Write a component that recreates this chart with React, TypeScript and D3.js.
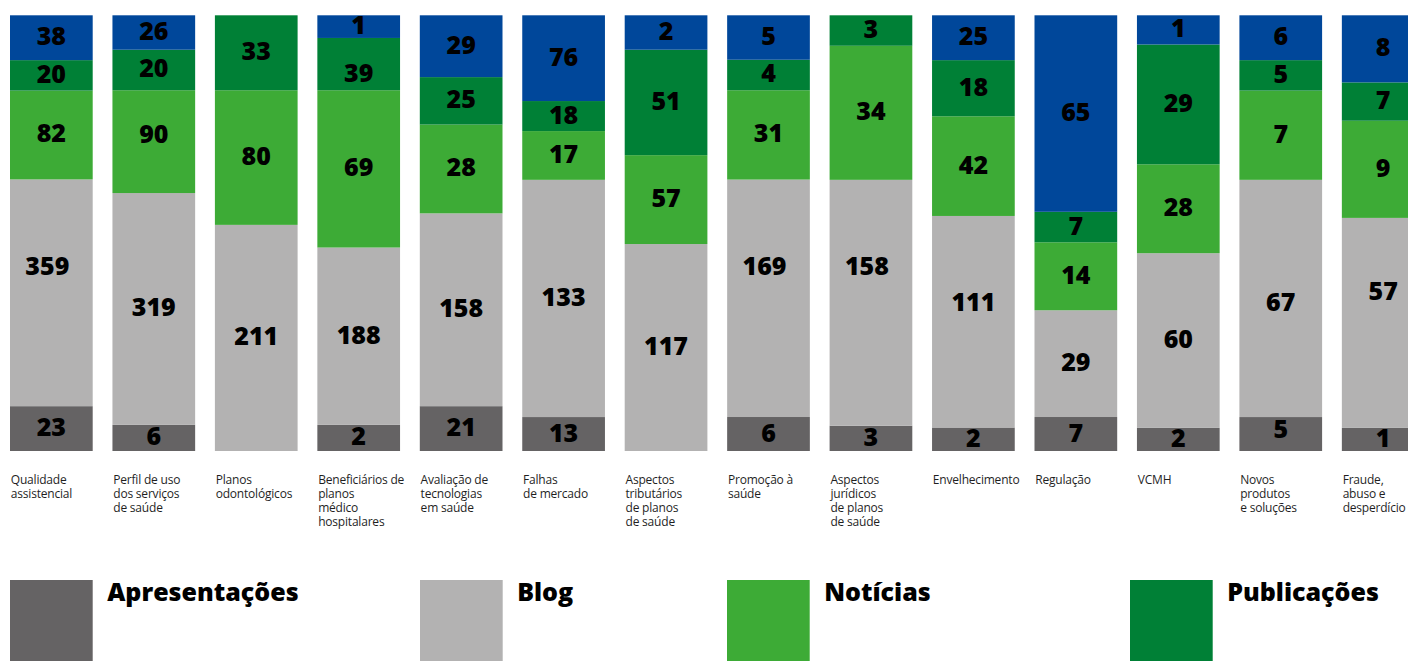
import React from 'react';
import * as d3 from 'd3';

// ---------- DATA ----------
const categories = [
  'Qualidade assistencial',
  'Perfil de uso dos serviços de saúde',
  'Planos odontológicos',
  'Beneficiários de planos médico hospitalares',
  'Avaliação de tecnologias em saúde',
  'Falhas de mercado',
  'Aspectos tributários de planos de saúde',
  'Promoção à saúde',
  'Aspectos jurídicos de planos de saúde',
  'Envelhecimento',
  'Regulação',
  'VCMH',
  'Novos produtos e soluções',
  'Fraude, abuso e desperdício',
];

const categoryLines = [
  ['Qualidade', 'assistencial'],
  ['Perfil de uso', 'dos serviços', 'de saúde'],
  ['Planos', 'odontológicos'],
  ['Beneficiários de', 'planos', 'médico', 'hospitalares'],
  ['Avaliação de', 'tecnologias', 'em saúde'],
  ['Falhas', 'de mercado'],
  ['Aspectos', 'tributários', 'de planos', 'de saúde'],
  ['Promoção à', 'saúde'],
  ['Aspectos', 'jurídicos', 'de planos', 'de saúde'],
  ['Envelhecimento'],
  ['Regulação'],
  ['VCMH'],
  ['Novos', 'produtos', 'e soluções'],
  ['Fraude,', 'abuso e', 'desperdício'],
];

const seriesNames = ['Apresentações', 'Blog', 'Notícias', 'Publicações', 'Vídeos'];

// counts shown as labels
const apresentacoes = [23, 6, 0, 2, 21, 13, 0, 6, 3, 2, 7, 2, 5, 1];
const blog = [359, 319, 211, 188, 158, 133, 117, 169, 158, 111, 29, 60, 67, 57];
const noticias = [82, 90, 80, 69, 28, 17, 57, 31, 34, 42, 14, 28, 7, 9];
const publicacoes = [20, 20, 33, 39, 25, 18, 51, 4, 3, 18, 7, 29, 5, 7];
const videos = [38, 26, 0, 1, 29, 76, 2, 5, 0, 25, 65, 1, 6, 8];

// share of each bar (%) as drawn in the picture
const apresentacoesPct = [10.3, 6.0, 0, 6.0, 10.3, 7.8, 0, 7.8, 5.8, 5.4, 7.8, 5.3, 7.8, 5.3];
const blogPct = [52.1, 53.2, 51.9, 40.7, 44.3, 54.5, 47.5, 54.5, 56.5, 48.6, 24.5, 40.1, 54.5, 48.2];
const noticiasPct = [20.4, 23.6, 30.9, 36.1, 20.4, 11.2, 20.4, 20.5, 30.8, 22.9, 15.6, 20.4, 20.5, 22.3];
const publicacoesPct = [7.0, 9.3, 17.2, 12.0, 10.9, 6.9, 24.2, 7.0, 7.0, 12.9, 7.0, 27.5, 7.0, 8.8];
const videosPct = [10.3, 7.9, 0, 5.2, 14.2, 19.7, 7.9, 10.2, 0, 10.3, 45.1, 6.7, 10.3, 15.4];

const colors = ['#656364', '#b3b2b2', '#3dab36', '#008036', '#00479a'];

// ---------- LAYOUT ----------
const W = 1408;
const H = 661;
const FONT = '"Open Sans", "Noto Sans", sans-serif';
const barTop = 15.3;
const barBottom = 451;
const barLeft = 10;
const barStep = 102.45;
const barWidth = 82.7;
const legendX = [10, 420, 727, 1130];
const legendTop = 580;
const legendSize = 82.7;

// manual label nudges seen in the picture: [seriesIndex, categoryIndex, dx, dy]
const labelNudge: [number, number, number, number][] = [
  [1, 0, -4, -25],
  [2, 1, 0, -6.5],
  [3, 3, 0, 10],
  [1, 7, -4, -31],
  [1, 8, -4, -35],
  [1, 9, 0, -18],
  [1, 12, 0, 5],
  [0, 12, 0, -4],
  [1, 13, 0, -30],
];

export default function App() {
  const counts = [apresentacoes, blog, noticias, publicacoes, videos];
  const shares = [apresentacoesPct, blogPct, noticiasPct, publicacoesPct, videosPct];

  const rows = categories.map((c, i) => {
    const r: any = { category: c };
    seriesNames.forEach((s, k) => (r[s] = shares[k][i]));
    return r;
  });

  const stack = d3.stack<any>().keys(seriesNames).offset(d3.stackOffsetExpand);
  const layers = stack(rows);

  const n = categories.length;
  const pad = 1 - barWidth / barStep;
  const x = d3
    .scaleBand<string>()
    .domain(categories)
    .range([barLeft, barLeft + (n - 1) * barStep + barWidth])
    .paddingInner(pad)
    .paddingOuter(0)
    .align(0);
  const y = d3.scaleLinear().domain([0, 1]).range([barBottom, barTop]);

  const nudge = (k: number, i: number) => {
    const f = labelNudge.find((d) => d[0] === k && d[1] === i);
    return f ? [f[2], f[3]] : [0, 0];
  };

  return (
    <svg
      width={W}
      height={H}
      viewBox={`0 0 ${W} ${H}`}
      style={{ position: 'absolute', left: 0, top: 0, background: '#fff' }}
      fontFamily={FONT}
    >
      <rect x={0} y={0} width={W} height={H} fill="#fff" />
      {layers.map((layer, k) => (
        <g key={seriesNames[k]} fill={colors[k]}>
          {layer.map((d, i) => {
            const h = y(d[0]) - y(d[1]);
            if (h <= 0) return null;
            return (
              <rect
                key={i}
                x={x(categories[i])}
                y={y(d[1])}
                width={x.bandwidth()}
                height={h}
              />
            );
          })}
        </g>
      ))}
      {layers.map((layer, k) => (
        <g key={'l' + seriesNames[k]}>
          {layer.map((d, i) => {
            const v = counts[k][i];
            if (!v) return null;
            const [dx, dy] = nudge(k, i);
            return (
              <text
                key={i}
                x={(x(categories[i]) as number) + x.bandwidth() / 2 + dx}
                y={y((d[0] + d[1]) / 2) + dy}
                dy="0.3em"
                textAnchor="middle"
                fontSize={25}
                fontWeight={800}
                fill="#000"
              >
                {v}
              </text>
            );
          })}
        </g>
      ))}
      {categoryLines.map((lines, i) => (
        <text
          key={'c' + i}
          x={(x(categories[i]) as number) + 0.8}
          y={484}
          fontSize={12}
          letterSpacing={-0.2}
          fill="#1f1f1f"
        >
          {lines.map((ln, j) => (
            <tspan key={j} x={(x(categories[i]) as number) + 0.8} dy={j === 0 ? 0 : 14}>
              {ln}
            </tspan>
          ))}
        </text>
      ))}
      {legendX.map((lx, k) => (
        <g key={'lg' + k}>
          <rect x={lx} y={legendTop} width={legendSize} height={legendSize} fill={colors[k]} />
          <text
            x={lx + legendSize + 14.5}
            y={601}
            fontSize={25}
            fontWeight={800}
            fill="#000"
          >
            {seriesNames[k]}
          </text>
        </g>
      ))}
    </svg>
  );
}
